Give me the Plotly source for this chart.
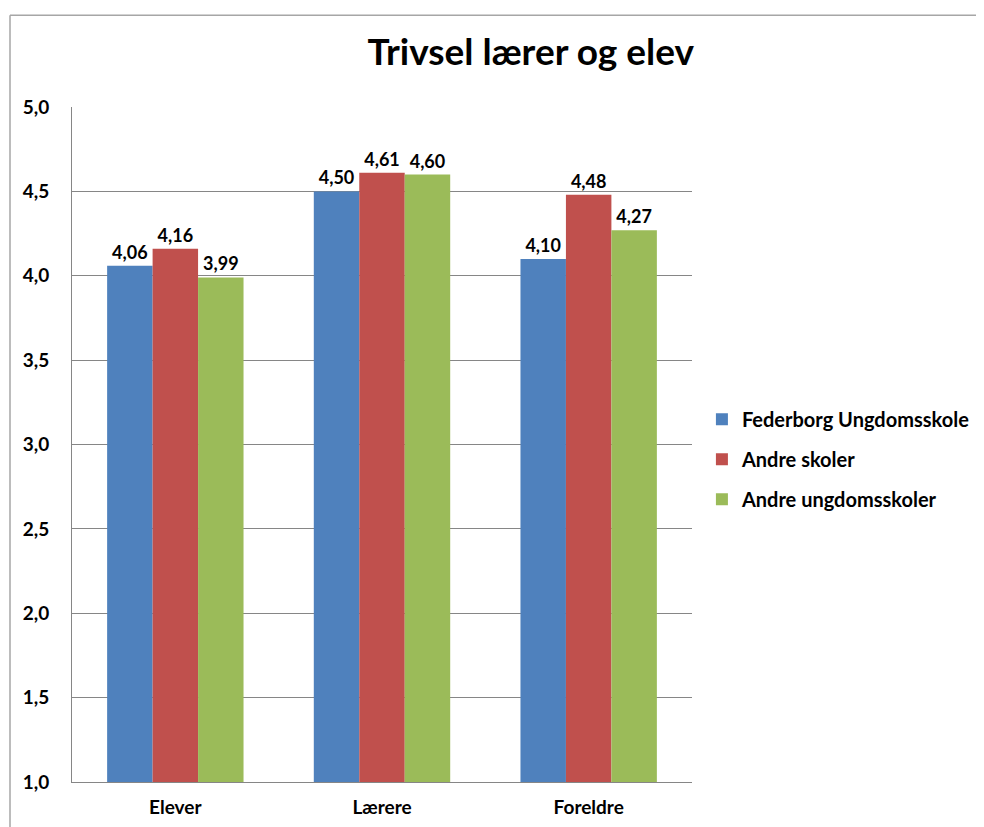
import plotly.graph_objects as go

# Data
categories = ['Elever', 'Lærere', 'Foreldre']
federborg = [4.06, 4.50, 4.10]
andre_skoler = [4.16, 4.61, 4.48]
andre_ungdomsskoler = [3.99, 4.60, 4.27]

series = [
    ('Federborg Ungdomsskole', federborg, '#4F81BD'),
    ('Andre skoler', andre_skoler, '#C0504D'),
    ('Andre ungdomsskoler', andre_ungdomsskoler, '#9BBB59'),
]

FONT = 'Lato, Open Sans, sans-serif'

fig = go.Figure()

for name, vals, color in series:
    fig.add_trace(go.Bar(
        x=categories,
        y=vals,
        name=name,
        legendgroup=name,
        marker=dict(color=color, line=dict(width=0)),
        texttemplate='%{y:.2f}',
        textposition='outside',
        textfont=dict(size=18, color='#000000', family=FONT, weight='bold'),
        cliponaxis=False,
    ))

# chart border (left and top edges visible)
fig.add_shape(type='line', xref='paper', yref='paper',
              x0=-0.1, x1=1.6, y0=1.136, y1=1.136,
              line=dict(color='#a6a6a6', width=1.5))
fig.add_shape(type='line', xref='paper', yref='paper',
              x0=-0.1, x1=-0.1, y0=1.136, y1=-0.2,
              line=dict(color='#a6a6a6', width=1.5))

fig.update_layout(
    width=984,
    height=827,
    margin=dict(l=64, r=300, t=99, b=53),
    barmode='group',
    bargap=0.34,
    bargroupgap=0,
    separators=',.',
    plot_bgcolor='white',
    paper_bgcolor='white',
    font=dict(family=FONT, color='#000000'),
    title=dict(
        text='Trivsel lærer og elev',
        xref='paper', x=0.74, xanchor='center',
        yref='container', y=0.947, yanchor='middle',
        font=dict(size=37, family=FONT, color='#000000', weight='bold'),
    ),
    xaxis=dict(
        showline=True,
        linecolor='#868686',
        linewidth=1,
        ticks='',
        tickfont=dict(size=19, family=FONT, color='#000000', weight='bold'),
        ticklabelstandoff=8,
    ),
    yaxis=dict(
        range=[1.0, 5.0],
        dtick=0.5,
        tick0=1.0,
        tickformat='.1f',
        showgrid=True,
        gridcolor='#868686',
        gridwidth=1,
        showline=True,
        linecolor='#868686',
        linewidth=1,
        ticks='',
        zeroline=False,
        ticklabelstandoff=18,
        tickfont=dict(size=19, family=FONT, color='#000000', weight='bold'),
    ),
    legend=dict(
        x=1.016, xanchor='left',
        y=0.478, yanchor='middle',
        font=dict(size=20, family=FONT, color='#000000', weight='bold'),
        tracegroupgap=11,
        traceorder='grouped',
        itemwidth=30,
    ),
)

fig.write_html('out.html')
